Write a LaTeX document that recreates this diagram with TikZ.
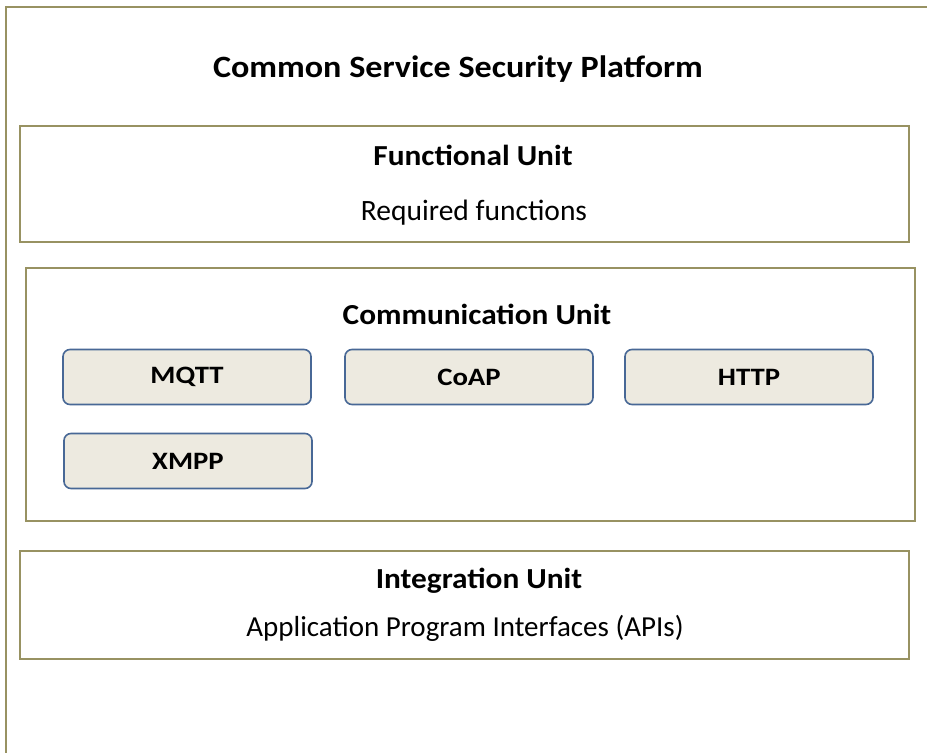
\documentclass[tikz,border=0pt]{standalone}
\usepackage{fontspec}
\usepackage{graphicx}
\setmainfont{Carlito}
\definecolor{frame}{RGB}{152,146,98}
\definecolor{protofill}{RGB}{237,234,224}
\definecolor{protoline}{RGB}{72,104,150}
\newcommand{\widetext}[2]{\scalebox{#1}[1]{#2}}
\begin{document}
\begin{tikzpicture}[x=1pt,y=-1pt,
  unitbox/.style={draw=frame,line width=2.2pt,fill=white},
  proto/.style={draw=protoline,line width=1.6pt,fill=protofill,rounded corners=7pt,minimum width=248pt,minimum height=55pt,font=\fontsize{25}{25}\selectfont\bfseries},
  head/.style={font=\fontsize{29}{29}\selectfont\bfseries,anchor=center},
  body/.style={font=\fontsize{29.5}{29.5}\selectfont,anchor=center}]
\useasboundingbox (0,0) rectangle (927,753);
\fill[white] (0,0) rectangle (927,753);
% outer frame (open to the right and bottom)
\coordinate (ftr) at (927,7);
\coordinate (ftl) at (6,7);
\coordinate (fbl) at (6,753);
\draw[frame,line width=2.2pt] (ftr) -- (ftl) -- (fbl);
\node[font=\fontsize{31}{31}\selectfont\bfseries] (title) at (458,69) {\widetext{1.1}{Common Service Security Platform}};
% functional unit
\draw[unitbox] (20,126) rectangle (909,242);
\node[head] (fu) at (473,155) {\widetext{1.08}{Functional Unit}};
\node[body] (fuf) at (474,213) {Required functions};
% communication unit
\draw[unitbox] (26,268) rectangle (915,521);
\node[head] (cu) at (477,314) {\widetext{1.08}{Communication Unit}};
\node[proto] (mqtt) at (187,377) {\widetext{1.15}{MQTT}};
\node[proto] (coap) at (469,377) {\widetext{1.15}{CoAP}};
\node[proto] (http) at (749,377) {\widetext{1.15}{HTTP}};
\node[proto] (xmpp) at (188,461) {\widetext{1.15}{XMPP}};
% integration unit
\draw[unitbox] (20,551) rectangle (909,659);
\node[head] (iu) at (479,581) {\widetext{1.08}{Integration Unit}};
\node[body,font=\fontsize{29}{29}\selectfont] (api) at (465,628) {Application Program Interfaces (APIs)};
\end{tikzpicture}
\end{document}
